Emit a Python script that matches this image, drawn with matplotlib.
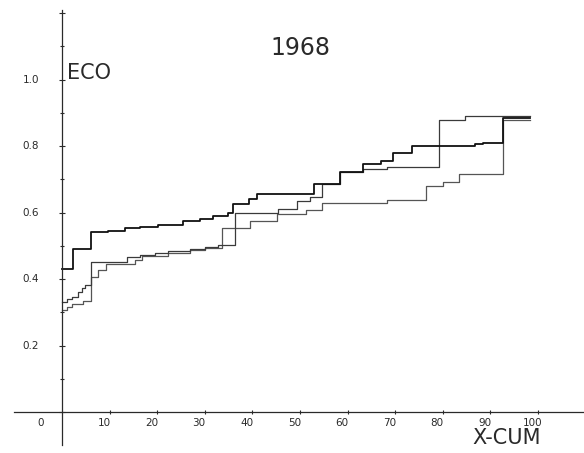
import matplotlib
matplotlib.use("Agg")
import matplotlib.pyplot as plt

# step curves (x = cumulative %, y = ECO)
x_a = [0, 2.4, 6.0, 9.7, 13.2, 16.4, 20.2, 25.4, 29.0, 31.7, 34.9, 36.0, 39.3, 41.0,
       47.9, 52.9, 58.3, 63.3, 67.0, 69.5, 73.5, 86.8, 88.4, 92.6, 98.3]
y_a = [0.43, 0.49, 0.541, 0.545, 0.553, 0.557, 0.562, 0.575, 0.58, 0.59, 0.60, 0.626,
       0.64, 0.655, 0.657, 0.686, 0.723, 0.745, 0.755, 0.778, 0.80, 0.806, 0.81, 0.885, 0.885]

x_b = [0, 1.0, 2.2, 3.4, 4.2, 4.8, 6.0, 13.6, 16.4, 19.5, 22.3, 26.9, 30.0, 32.8,
       36.3, 45.4, 49.3, 52.1, 54.6, 58.3, 63.3, 68.2, 79.3, 84.7, 98.3]
y_b = [0.332, 0.34, 0.347, 0.36, 0.372, 0.382, 0.452, 0.465, 0.472, 0.479, 0.485, 0.49,
       0.497, 0.502, 0.60, 0.611, 0.636, 0.646, 0.686, 0.723, 0.73, 0.736, 0.878, 0.891, 0.891]

x_c = [0, 1.0, 2.0, 4.5, 6.0, 7.6, 9.2, 15.3, 16.7, 22.3, 26.9, 30.0, 33.7, 39.5,
       45.1, 51.3, 54.6, 68.2, 76.4, 80.1, 83.3, 92.6, 98.3]
y_c = [0.307, 0.317, 0.325, 0.335, 0.407, 0.427, 0.445, 0.457, 0.469, 0.479, 0.487,
       0.494, 0.552, 0.573, 0.596, 0.607, 0.63, 0.638, 0.68, 0.693, 0.716, 0.878, 0.878]

x_ticks = [10, 20, 30, 40, 50, 60, 70, 80, 90, 100]
x_labels = ["10", "20", "30", "40", "50", "60", "70", "80", "90", "100"]
y_ticks = [0.2, 0.4, 0.6, 0.8, 1.0]
y_labels = ["0.2", "0.4", "0.6", "0.8", "1.0"]

fig = plt.figure(figsize=(5.84, 4.53), dpi=100)
ax = fig.add_axes([0, 0, 1, 1])
ax.set_xlim(-13.03, 109.66)
ax.set_ylim(-0.1233, 1.2391)

ink = "#2a2a2a"
for s in ["top", "right"]:
    ax.spines[s].set_visible(False)
ax.spines["left"].set_position(("data", 0))
ax.spines["bottom"].set_position(("data", 0))
ax.spines["left"].set_bounds(-0.099, 1.209)
ax.spines["bottom"].set_bounds(-10.1, 109.66)
for s in ["left", "bottom"]:
    ax.spines[s].set_color(ink)
    ax.spines[s].set_linewidth(0.9)

ax.set_yticks([0, 0.2, 0.4, 0.6, 0.8, 1.0, 1.2])
ax.set_yticks([0.1, 0.3, 0.5, 0.7, 0.9, 1.1], minor=True)
ax.set_xticks(x_ticks)
ax.tick_params(axis="both", which="both", direction="inout", colors=ink,
               labelleft=False, labelbottom=False, width=0.8)
ax.tick_params(axis="y", which="major", length=5)
ax.tick_params(axis="y", which="minor", length=3)
ax.tick_params(axis="x", which="major", length=3)

ax.step(x_c, y_c, where="post", color="#555555", lw=0.9)
ax.step(x_b, y_b, where="post", color="#3a3a3a", lw=0.9)
ax.step(x_a, y_a, where="post", color="#111111", lw=1.3)

font = "DejaVu Sans"
for v, lab in zip(y_ticks, y_labels):
    ax.text(-6.5, v, lab, ha="center", va="center", fontsize=7.5, color=ink, family=font)
for v, lab in zip(x_ticks, x_labels):
    ax.text(v - 1.2, -0.034, lab, ha="center", va="center", fontsize=7.5, color=ink, family=font)
ax.text(-4.4, -0.034, "0", ha="center", va="center", fontsize=7.5, color=ink, family=font)

ax.text(50.0, 1.095, "1968", ha="center", va="center", fontsize=17, color=ink, family=font)
ax.text(1.0, 1.02, "ECO", ha="left", va="center", fontsize=15, color=ink, family=font)
ax.text(93.5, -0.078, "X-CUM", ha="center", va="center", fontsize=15, color=ink, family=font)

fig.savefig("out.png", dpi=100)
